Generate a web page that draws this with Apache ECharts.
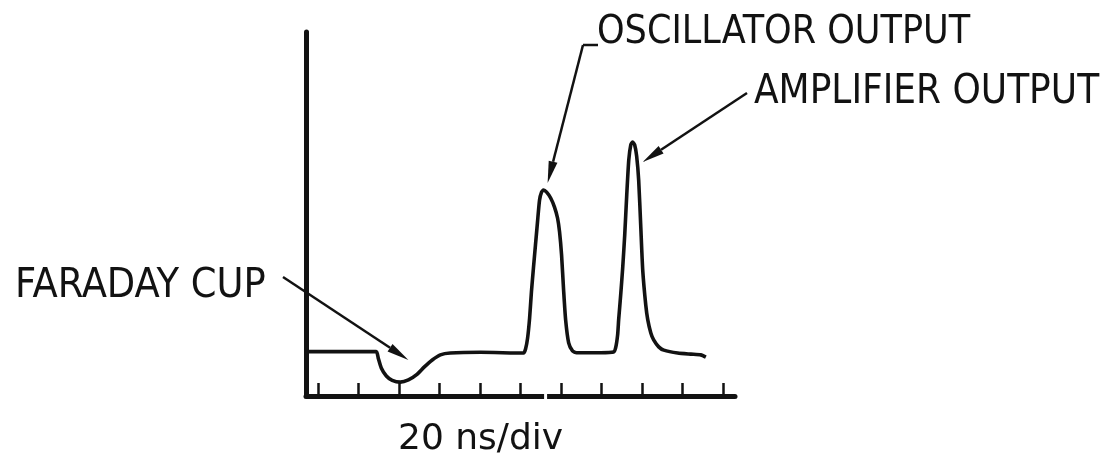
<!DOCTYPE html>
<html>
<head>
<meta charset="utf-8">
<script src="https://cdn.jsdelivr.net/npm/echarts@6/dist/echarts.min.js"></script>
<style>
  html, body { margin: 0; padding: 0; background: #ffffff; }
  #chart { width: 1119px; height: 467px; }
</style>
</head>
<body>
<div id="chart"></div>
<script>
// Oscilloscope trace: time in ns (20 ns per division) and signal in arbitrary units
const timeNs = [
  -6, 10.9, 28.7, 29.7, 31.2, 33.7, 36.6, 40.6, 44.6, 48.5, 52.5, 56.4, 60.4, 65.3, 80.2,
  101.5, 102.5, 103.5, 104.5, 105.4, 106.4, 107.4, 108.4, 109.4, 110.4, 111.4,
  112.9, 114.9, 116.8, 118.3, 119.3, 120.3, 121.3, 122.3, 123.8, 125.7, 127.7, 139.6,
  146.0, 147.0, 148.0, 148.5, 149.5, 150.5, 151.5, 152.5, 153.5, 154.5, 155.4, 156.4,
  157.4, 158.4, 159.4, 160.4, 161.9, 162.9, 164.4, 165.8, 168.3, 170.8, 177.7, 184.2,
  189.1, 191.6
];
const signal = [
  12.2, 12.2, 12.2, 10.4, 7.7, 5.5, 4.3, 3.8, 4.4, 5.8, 8.0, 9.9, 11.3, 11.8, 12.0,
  11.8, 12.9, 15.9, 21.4, 28.6, 35.2, 41.5, 47.8, 53.8, 56.0, 56.6,
  56.0, 54.4, 51.9, 48.9, 45.1, 38.7, 29.1, 20.9, 14.6, 12.4, 11.9, 11.9,
  12.1, 13.2, 16.8, 20.9, 27.7, 35.2, 44.2, 55.2, 64.8, 69.0, 69.8, 69.0,
  65.9, 59.3, 47.0, 34.6, 25.0, 20.9, 17.3, 15.4, 13.5, 12.6, 11.8, 11.5,
  11.3, 10.7
];

// One tick per 20 ns division
const tickTimes = [0, 20, 40, 60, 80, 100, 120, 140, 160, 180, 200];
const scaleLabel = '20 ns/div';

// Callout texts and the trace points their arrows point at (time ns, signal)
const calloutTexts = ['FARADAY CUP', 'OSCILLATOR OUTPUT', 'AMPLIFIER OUTPUT'];
const calloutTargets = [[44.6, 9.9], [113.4, 58.5], [160.4, 64.3]];

const INK = '#121212';
const CAPS_FONT = '"DejaVu Sans Condensed", "DejaVu Sans", sans-serif';
const FONT = '"DejaVu Sans", "Liberation Sans", sans-serif';

const chart = echarts.init(document.getElementById('chart'), null, { renderer: 'canvas' });

chart.setOption({
  animation: false,
  backgroundColor: '#ffffff',
  grid: { left: 306, right: 384, top: 32, bottom: 71 },
  xAxis: {
    type: 'value',
    min: -6,
    max: 206,
    axisLine: { onZero: false, lineStyle: { color: INK, width: 5, cap: 'round' } },
    axisTick: {
      show: true,
      inside: true,
      length: 13,
      customValues: tickTimes,
      lineStyle: { color: INK, width: 2.5 }
    },
    axisLabel: { show: false },
    splitLine: { show: false }
  },
  yAxis: {
    type: 'value',
    min: 0,
    max: 100,
    axisLine: { show: true, onZero: false, lineStyle: { color: INK, width: 5, cap: 'round' } },
    axisTick: { show: false },
    axisLabel: { show: false },
    splitLine: { show: false }
  },
  series: [{
    type: 'line',
    data: timeNs.map((t, i) => [t, signal[i]]),
    showSymbol: false,
    smooth: 0.2,
    lineStyle: { color: INK, width: 3.6 },
    z: 3
  }]
});

// Callout arrows and texts, anchored on the trace through the grid's coordinate system
function arrow(from, to) {
  const dx = to[0] - from[0], dy = to[1] - from[1];
  const len = Math.sqrt(dx * dx + dy * dy);
  const ux = dx / len, uy = dy / len;
  const headLen = 22, headHalf = 4.5;
  const bx = to[0] - ux * headLen, by = to[1] - uy * headLen;
  return [
    { type: 'line', shape: { x1: from[0], y1: from[1], x2: bx, y2: by },
      style: { stroke: INK, lineWidth: 2.5 }, z: 10 },
    { type: 'polygon', shape: { points: [
        [to[0], to[1]],
        [bx - uy * headHalf, by + ux * headHalf],
        [bx + uy * headHalf, by - ux * headHalf]
      ] }, style: { fill: INK }, z: 10 }
  ];
}

const tips = calloutTargets.map(p => chart.convertToPixel({ gridIndex: 0 }, p));
const textStyle = (s, size, family) => ({ text: s, fill: INK, font: size + 'px ' + family,
  textVerticalAlign: 'middle', textAlign: 'left' });

const gap = chart.convertToPixel({ gridIndex: 0 }, [112.4, 0]);

const elements = [
  // FARADAY CUP
  { type: 'text', x: 15, y: 286, style: textStyle(calloutTexts[0], 41, CAPS_FONT), z: 10 },
  ...arrow([283, 277], tips[0]),
  // OSCILLATOR OUTPUT with its hooked leader
  { type: 'text', x: 597, y: 33, style: textStyle(calloutTexts[1], 39, CAPS_FONT), z: 10 },
  { type: 'line', shape: { x1: 598, y1: 45, x2: 583, y2: 45 },
    style: { stroke: INK, lineWidth: 2.5 }, z: 10 },
  ...arrow([583, 45], tips[1]),
  // AMPLIFIER OUTPUT
  { type: 'text', x: 754, y: 93, style: textStyle(calloutTexts[2], 40, CAPS_FONT), z: 10 },
  ...arrow([747, 93], tips[2]),
  // time-base label
  { type: 'text', x: 398, y: 440, style: textStyle(scaleLabel, 36, FONT), z: 10 },
  // small break in the time axis line
  { type: 'rect', shape: { x: gap[0] - 1.5, y: gap[1] - 4, width: 3, height: 8 },
    style: { fill: '#ffffff' }, z: 20 }
];

chart.setOption({ graphic: { elements } });
</script>
</body>
</html>
